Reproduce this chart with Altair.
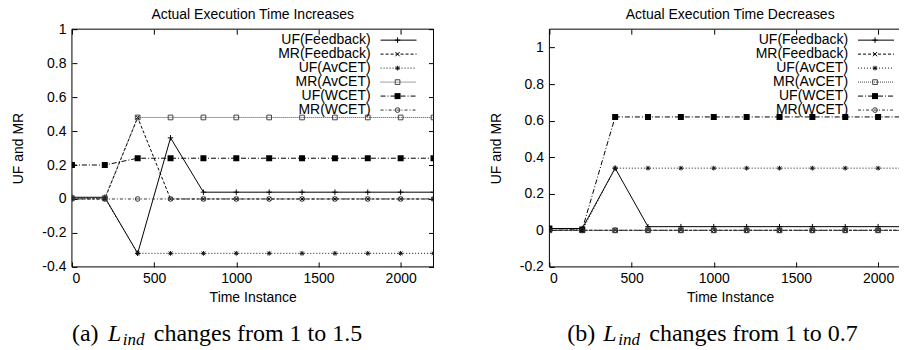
import altair as alt
import pandas as pd

# ---------------- data ----------------
time = [0, 200, 400, 600, 800, 1000, 1200, 1400, 1600, 1800, 2000, 2200]
series_names = ["UF(Feedback)", "MR(Feedback)", "UF(AvCET)", "MR(AvCET)", "UF(WCET)", "MR(WCET)"]

# panel (a): actual execution time increases
a_uf_feedback = [0.01, 0.01, -0.32, 0.36, 0.04, 0.04, 0.04, 0.04, 0.04, 0.04, 0.04, 0.04]
a_mr_feedback = [0.0, 0.0, 0.48, 0.0, 0.0, 0.0, 0.0, 0.0, 0.0, 0.0, 0.0, 0.0]
a_uf_avcet = [0.005, 0.005, -0.32, -0.32, -0.32, -0.32, -0.32, -0.32, -0.32, -0.32, -0.32, -0.32]
a_mr_avcet = [0.005, 0.005, 0.48, 0.48, 0.48, 0.48, 0.48, 0.48, 0.48, 0.48, 0.48, 0.48]
a_uf_wcet = [0.2, 0.2, 0.24, 0.24, 0.24, 0.24, 0.24, 0.24, 0.24, 0.24, 0.24, 0.24]
a_mr_wcet = [0.0, 0.0, 0.0, 0.0, 0.0, 0.0, 0.0, 0.0, 0.0, 0.0, 0.0, 0.0]

# panel (b): actual execution time decreases
b_uf_feedback = [0.01, 0.01, 0.34, 0.02, 0.02, 0.02, 0.02, 0.02, 0.02, 0.02, 0.02, 0.02]
b_mr_feedback = [0.0, 0.0, 0.0, 0.0, 0.0, 0.0, 0.0, 0.0, 0.0, 0.0, 0.0, 0.0]
b_uf_avcet = [0.0, 0.0, 0.34, 0.34, 0.34, 0.34, 0.34, 0.34, 0.34, 0.34, 0.34, 0.34]
b_mr_avcet = [0.0, 0.0, 0.0, 0.0, 0.0, 0.0, 0.0, 0.0, 0.0, 0.0, 0.0, 0.0]
b_uf_wcet = [0.01, 0.005, 0.62, 0.62, 0.62, 0.62, 0.62, 0.62, 0.62, 0.62, 0.62, 0.62]
b_mr_wcet = [0.0, 0.0, 0.0, 0.0, 0.0, 0.0, 0.0, 0.0, 0.0, 0.0, 0.0, 0.0]

a_titles = ["Actual Execution Time Increases", "(a)", " changes from 1 to 1.5"]
b_titles = ["Actual Execution Time Decreases", "(b)", " changes from 1 to 0.7"]

a_yticks = [-0.4, -0.2, 0, 0.2, 0.4, 0.6, 0.8, 1.0]
b_yticks = [-0.2, 0, 0.2, 0.4, 0.6, 0.8, 1.0]
xticks = [0, 500, 1000, 1500, 2000]

# ---------------- styles ----------------
PLUS = "M-1,0L1,0M0,-1L0,1"
XSH = "M-1,-1L1,1M-1,1L1,-1"
STAR = "M-1,0L1,0M0,-1L0,1M-0.75,-0.75L0.75,0.75M-0.75,0.75L0.75,-0.75"
styles = [
    dict(dash=None, shape=PLUS, filled=False, size=30, color="#000000"),
    dict(dash=[3, 2], shape=XSH, filled=False, size=18, color="#000000"),
    dict(dash=[1, 2], shape=STAR, filled=False, size=22, color="#111111"),
    dict(dash=[1, 1], shape="square", filled=False, size=22, color="#444444"),
    dict(dash=[5, 2, 1, 2], shape="square", filled=True, size=36, color="#000000"),
    dict(dash=[3, 2, 1, 2], shape="circle", filled=False, size=22, color="#333333"),
]

FONT = "Liberation Sans"
SERIF = "Liberation Serif"
H = 238


def make_df(cols):
    rows = []
    for name, vals in zip(series_names, cols):
        for t, v in zip(time, vals):
            rows.append({"t": t, "value": v, "series": name})
    return pd.DataFrame(rows)


def panel(cols, ydom, yticks, texts, width, xdom, cap_dx):
    df = make_df(cols)
    one = pd.DataFrame({"k": [0]})
    xs = alt.Scale(domain=xdom, nice=False, zero=False)
    ys = alt.Scale(domain=ydom, nice=False, zero=False)
    ylab = "(datum.value < 0 ? '-' : '') + replace(format(abs(datum.value), '.1f'), '.0', '')"

    layers = []
    # axes layer (bottom + left, inward ticks via negative offset)
    layers.append(
        alt.Chart(df).mark_point(opacity=0).encode(
            x=alt.X("t:Q", scale=xs, axis=alt.Axis(
                orient="bottom", values=xticks, format="d", offset=-5, tickSize=5,
                domain=False, grid=False, labelPadding=5, title="Time Instance",
                titlePadding=5)),
            y=alt.Y("value:Q", scale=ys, axis=alt.Axis(
                orient="left", values=yticks, labelExpr=ylab, offset=-5, tickSize=5,
                domain=False, grid=False, labelPadding=6, title="UF and MR",
                titlePadding=16)),
        )
    )
    # mirror ticks (top / right)
    layers.append(
        alt.Chart(df).mark_point(opacity=0).encode(
            x=alt.X("t:Q", scale=xs, axis=alt.Axis(
                orient="top", values=xticks, offset=-5, tickSize=5, labels=False,
                domain=False, grid=False, title=None)),
            y=alt.Y("value:Q", scale=ys, axis=alt.Axis(
                orient="right", values=yticks, offset=-5, tickSize=5, labels=False,
                domain=False, grid=False, title=None)),
        )
    )
    # frame
    layers.append(alt.Chart(one).mark_rule(color="#000", strokeWidth=1).encode(
        x=alt.value(0), y=alt.value(0), y2=alt.value(H)))
    layers.append(alt.Chart(one).mark_rule(color="#000", strokeWidth=1).encode(
        x=alt.value(width), y=alt.value(0), y2=alt.value(H)))
    layers.append(alt.Chart(one).mark_rule(color="#000", strokeWidth=1).encode(
        x=alt.value(0), x2=alt.value(width), y=alt.value(0)))
    layers.append(alt.Chart(one).mark_rule(color="#000", strokeWidth=1).encode(
        x=alt.value(0), x2=alt.value(width), y=alt.value(H)))

    # series
    for name, st in zip(series_names, styles):
        lkw = dict(color=st["color"], strokeWidth=1, clip=True)
        if st["dash"]:
            lkw["strokeDash"] = st["dash"]
        base = alt.Chart(df).transform_filter(alt.datum.series == name)
        enc = dict(x=alt.X("t:Q", scale=xs, axis=None), y=alt.Y("value:Q", scale=ys, axis=None))
        layers.append(base.mark_line(**lkw).encode(**enc))
        layers.append(base.mark_point(shape=st["shape"], filled=st["filled"], size=st["size"],
                                      color=st["color"], strokeWidth=1, opacity=1, clip=True).encode(**enc))

    # legend
    for i, (name, st) in enumerate(zip(series_names, styles)):
        yy = 11 + 14 * i
        ldf = pd.DataFrame({"label": [name]})
        layers.append(alt.Chart(ldf).mark_text(align="right", baseline="middle", font=FONT,
                                               fontSize=14, color="#000").encode(
            text="label:N", x=alt.value(299), y=alt.value(yy)))
        rkw = dict(color=st["color"], strokeWidth=1)
        if st["dash"]:
            rkw["strokeDash"] = st["dash"]
        layers.append(alt.Chart(ldf).mark_rule(**rkw).encode(
            x=alt.value(309), x2=alt.value(345), y=alt.value(yy)))
        layers.append(alt.Chart(ldf).mark_point(shape=st["shape"], filled=st["filled"], size=st["size"],
                                                color=st["color"], strokeWidth=1, opacity=1).encode(
            x=alt.value(326), y=alt.value(yy)))

    # panel title
    tdf = pd.DataFrame({"title": [texts[0]], "tag": [texts[1]], "rest": [texts[2]],
                        "L": ["L"], "sub": ["ind"]})
    layers.append(alt.Chart(tdf).mark_text(align="center", baseline="top", font=FONT,
                                           fontSize=14, color="#000").encode(
        text="title:N", x=alt.value(181), y=alt.value(-21)))
    # caption
    cy = 312
    layers.append(alt.Chart(tdf).mark_text(align="left", baseline="alphabetic", font=SERIF,
                                           fontSize=24, color="#000").encode(
        text="tag:N", x=alt.value(cap_dx), y=alt.value(cy)))
    layers.append(alt.Chart(tdf).mark_text(align="left", baseline="alphabetic", font=SERIF,
                                           fontSize=24, fontStyle="italic", color="#000").encode(
        text="L:N", x=alt.value(cap_dx + 36), y=alt.value(cy)))
    layers.append(alt.Chart(tdf).mark_text(align="left", baseline="alphabetic", font=SERIF,
                                           fontSize=17, fontStyle="italic", color="#000").encode(
        text="sub:N", x=alt.value(cap_dx + 51), y=alt.value(cy + 4)))
    layers.append(alt.Chart(tdf).mark_text(align="left", baseline="alphabetic", font=SERIF,
                                           fontSize=24, color="#000").encode(
        text="rest:N", x=alt.value(cap_dx + 82), y=alt.value(cy)))

    return alt.layer(*layers).resolve_axis(x="independent", y="independent").properties(
        width=width, height=H)


left = panel([a_uf_feedback, a_mr_feedback, a_uf_avcet, a_mr_avcet, a_uf_wcet, a_mr_wcet],
             [-0.4, 1.0], a_yticks, a_titles, 362, [0, 2200], 0)
right = panel([b_uf_feedback, b_mr_feedback, b_uf_avcet, b_mr_avcet, b_uf_wcet, b_mr_wcet],
              [-0.2, 1.1], b_yticks, b_titles, 362, [0, 2200], 18)

chart = alt.hconcat(left, right, spacing=52).properties(
    padding={"left": 3, "top": 0, "right": -15, "bottom": 0}
).configure_view(stroke=None).configure_axis(
    labelFont=FONT, labelFontSize=14, labelColor="#000",
    titleFont=FONT, titleFontSize=14, titleFontWeight="normal", titleColor="#000",
    tickColor="#000", tickWidth=1,
)

chart.save("out.html", embed_options={"renderer": "svg", "actions": False})
